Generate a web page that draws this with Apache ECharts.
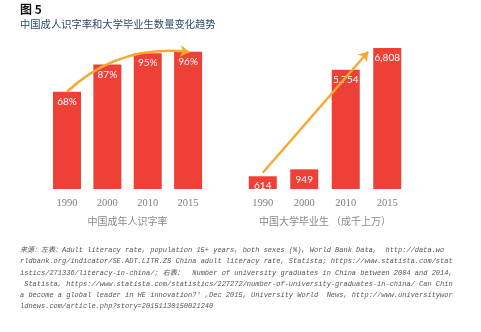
<!DOCTYPE html>
<html><head><meta charset="utf-8">
<script src="https://cdn.jsdelivr.net/npm/echarts@6/dist/echarts.min.js"></script>
<style>html,body{margin:0;padding:0;background:#fff}#c{width:481px;height:332px}</style>
</head><body><div id="c"></div>
<script>
const years = ['1990', '2000', '2010', '2015'];
const literacy = [68, 87, 95, 96];
const literacyLabels = ['68%', '87%', '95%', '96%'];
const graduates = [614, 949, 5754, 6808];
const graduateLabels = ['614', '949', '5,754', '6,808'];
const leftArrow = [[0, 68], [3.03, 95.8]];
const rightArrow = [[0, 786], [2.54, 6625]];
const footerLines = [
  '来源：左表：Adult literacy rate, population 15+ years, both sexes (%), World Bank Data,  http://data.wo',
  'rldbank.org/indicator/SE.ADT.LITR.ZS China adult literacy rate, Statista; https://www.statista.com/stat',
  'istics/271336/literacy-in-china/; 右表：  Number of university graduates in China between 2004 and 2014,',
  ' Statista, https://www.statista.com/statistics/227272/number-of-university-graduates-in-china/ Can Chin',
  'a become a global leader in HE innovation?\' ,Dec 2015, University World  News, http://www.universitywor',
  'ldnews.com/article.php?story=20151130150021240'
];

const RED = '#EE4037';
const ORANGE = '#F6A932';
const chart = echarts.init(document.getElementById('c'));
const catAxis = (gi, name) => ({
  type: 'category', gridIndex: gi, data: years,
  axisLine: {show: false}, axisTick: {show: false},
  axisLabel: {color: '#7d7d7d', fontFamily: 'Liberation Serif', fontSize: 10.5, margin: 9},
  name: name, nameLocation: 'middle', nameGap: 27,
  nameTextStyle: {color: '#8a8a8a', fontFamily: 'Noto Sans CJK SC', fontSize: 10}
});
const valAxisX = gi => ({type: 'value', gridIndex: gi, min: -0.5, max: 3.5, show: false});
const barLabel = labels => ({
  show: true, position: 'insideTop', distance: 5, color: '#fff',
  fontFamily: 'Lato', fontSize: 10,
  formatter: p => labels[p.dataIndex]
});
const footer = footerLines.map((t, i) => ({
  type: 'text', left: 20, top: 247 + i * 11.1,
  style: {text: t, fill: '#555', font: 'italic 7px "Liberation Mono", "Noto Sans CJK SC"'}
}));
chart.setOption({
  animation: false,
  backgroundColor: '#fff',
  grid: [
    {left: 46.8, width: 161.5, top: 46, height: 143},
    {left: 242, width: 166, top: 46, height: 143}
  ],
  xAxis: [catAxis(0, '中国成年人识字率'), catAxis(1, '中国大学毕业生 （成千上万）'), valAxisX(0), valAxisX(1)],
  yAxis: [
    {type: 'value', gridIndex: 0, min: 0, max: 100, show: false},
    {type: 'value', gridIndex: 1, min: 0, max: 6900, show: false}
  ],
  graphic: [
    {type: 'text', left: 20, top: 3, style: {text: '图 5', fill: '#111', font: 'bold 12px "Noto Sans CJK SC"'}},
    {type: 'text', left: 20, top: 19, style: {text: '中国成人识字率和大学毕业生数量变化趋势', fill: '#2d4a6b', font: '10.3px "Noto Sans CJK SC"'}}
  ].concat(footer),
  series: [
    {type: 'bar', xAxisIndex: 0, yAxisIndex: 0, data: literacy, barWidth: 28, itemStyle: {color: RED}, label: barLabel(literacyLabels)},
    {type: 'bar', xAxisIndex: 1, yAxisIndex: 1, data: graduates, barWidth: 28, itemStyle: {color: RED}, label: barLabel(graduateLabels)},
    {type: 'lines', coordinateSystem: 'cartesian2d', xAxisIndex: 2, yAxisIndex: 0,
     symbol: ['none', 'arrow'], symbolSize: 9, z: 5,
     lineStyle: {color: ORANGE, width: 2.5, curveness: 0.23, opacity: 1},
     data: [{coords: leftArrow}]},
    {type: 'lines', coordinateSystem: 'cartesian2d', xAxisIndex: 3, yAxisIndex: 1,
     symbol: ['none', 'arrow'], symbolSize: 9, z: 5,
     lineStyle: {color: ORANGE, width: 2.5, curveness: 0, opacity: 1},
     data: [{coords: rightArrow}]}
  ]
});
</script></body></html>
